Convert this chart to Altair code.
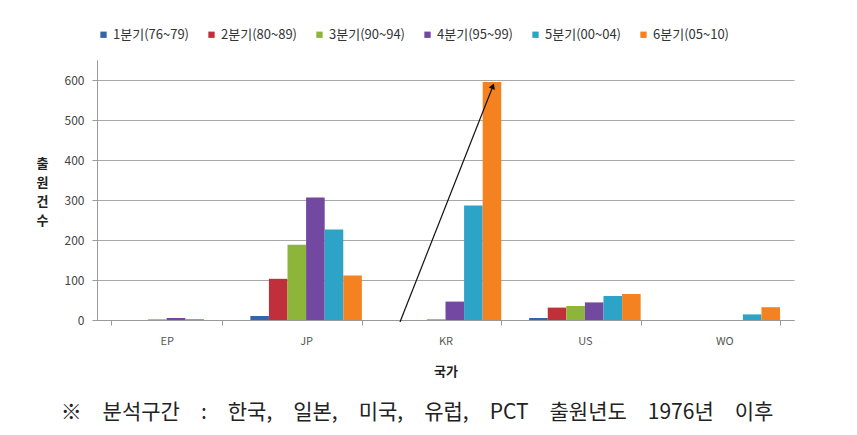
import altair as alt
import pandas as pd

countries = ["EP", "JP", "KR", "US", "WO"]
series = ["1분기(76~79)", "2분기(80~89)", "3분기(90~94)", "4분기(95~99)", "5분기(00~04)", "6분기(05~10)"]
colors = ["#3465AA", "#C0303A", "#8DB53A", "#7248A0", "#2EA3C8", "#F58220"]

s1 = [0, 10, 0, 5, 0]
s2 = [0, 103, 0, 31, 0]
s3 = [2, 188, 2, 35, 0]
s4 = [5, 306, 46, 44, 0]
s5 = [2, 226, 286, 60, 14]
s6 = [0, 111, 595, 65, 32]
y_ticks = [0, 100, 200, 300, 400, 500, 600]
note_words = ["※", "분석구간", ":", "한국,", "일본,", "미국,", "유럽,", "PCT", "출원년도", "1976년", "이후"]
note = "\u3000".join(note_words)

rows = []
for name, vals in zip(series, [s1, s2, s3, s4, s5, s6]):
    for c, v in zip(countries, vals):
        rows.append({"국가": c, "구간": name, "건수": v})
df = pd.DataFrame(rows)

FONT = "Noto Sans CJK KR"

bars = alt.Chart(df).mark_bar().encode(
    x=alt.X("국가:N", sort=countries,
            scale=alt.Scale(paddingInner=0.2, paddingOuter=0.1),
            axis=alt.Axis(title="국가", labelAngle=0, tickBand="extent",
                          labelFontSize=11, labelColor="#555", labelPadding=10,
                          titleFontSize=13, titleFontWeight="bold", titleColor="#222",
                          titlePadding=19, domainColor="#999", tickColor="#999",
                          tickSize=5, grid=False)),
    xOffset=alt.XOffset("구간:N", sort=series,
                        scale=alt.Scale(paddingInner=0, paddingOuter=0)),
    y=alt.Y("건수:Q", scale=alt.Scale(domain=[0, 650], nice=False),
            axis=alt.Axis(values=y_ticks, title=["출", "원", "건", "수"],
                          titleAngle=0, titleX=-55, titleY=97, titleAlign="center",
                          titleBaseline="top", titleLineHeight=19,
                          titleFontSize=13, titleFontWeight="bold", titleColor="#222",
                          labelFontSize=12, labelColor="#444", labelPadding=8,
                          tickSize=5, tickColor="#999", domainColor="#999",
                          gridColor="#a8a8a8")),
    color=alt.Color("구간:N", sort=series,
                    scale=alt.Scale(domain=series, range=colors),
                    legend=alt.Legend(title=None, orient="none", legendX=0, legendY=-32,
                                      direction="horizontal", columns=6, gridAlign="all",
                                      symbolType="square", symbolSize=40,
                                      symbolStrokeWidth=0, labelFontSize=13,
                                      labelColor="#333", labelOffset=3,
                                      columnPadding=16)),
)

arrow_line = alt.Chart(pd.DataFrame({"a": [0]})).mark_rule(color="#111", strokeWidth=1.2).encode(
    x=alt.value(303), x2=alt.value(396), y=alt.value(262), y2=alt.value(26)
)
arrow_head = alt.Chart(pd.DataFrame({"a": [0]})).mark_point(
    shape="triangle", filled=True, color="#111", size=45, angle=21.5, opacity=1
).encode(x=alt.value(395.5), y=alt.value(27))

note_text = alt.Chart(pd.DataFrame({"t": [note]})).mark_text(
    font=FONT, fontSize=21, color="#222", align="center", baseline="middle"
).encode(x=alt.value(320), y=alt.value(353), text="t:N")

chart = alt.layer(bars, arrow_line, arrow_head, note_text).properties(
    width=697, height=260,
    autosize=alt.AutoSizeParams(type="none"),
    padding={"left": 89, "top": 52, "right": 55, "bottom": 107},
).configure(font=FONT).configure_view(stroke=None)

chart.save("out.html", embed_options={"renderer": "svg", "actions": False})
